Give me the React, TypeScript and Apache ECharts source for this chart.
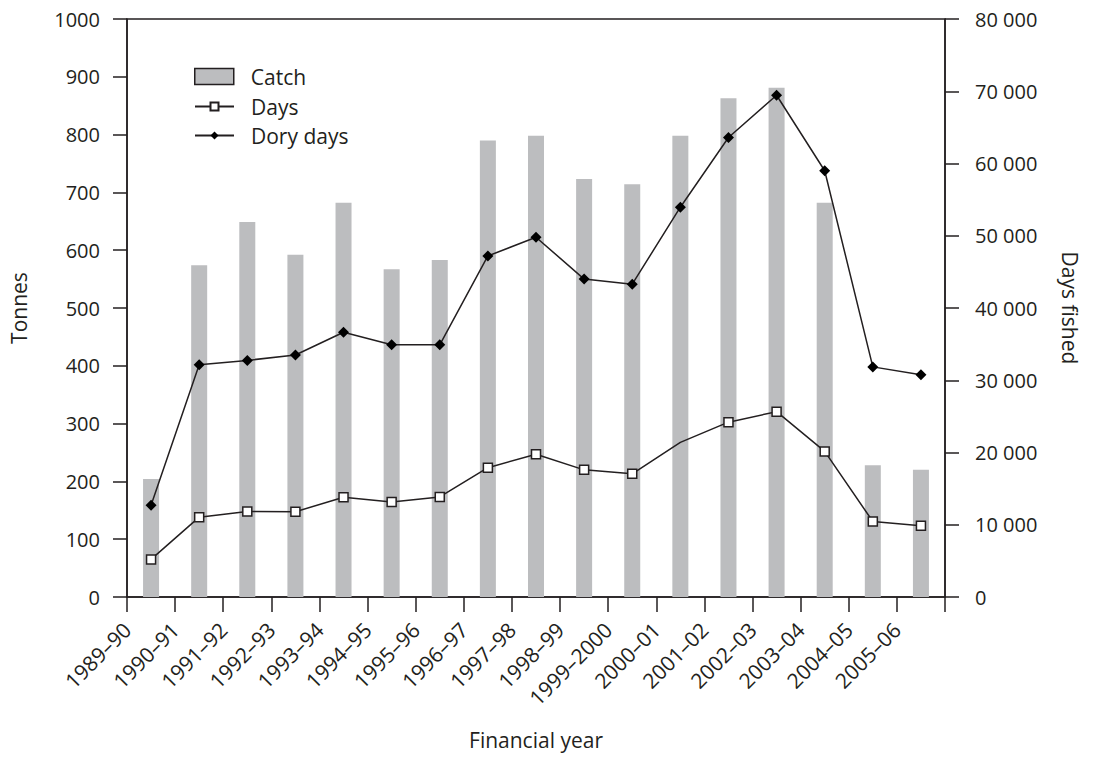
import React, { useEffect, useRef } from "react";
import * as echarts from "echarts";

const years = [
  "1989–90", "1990–91", "1991–92", "1992–93", "1993–94", "1994–95",
  "1995–96", "1996–97", "1997–98", "1998–99", "1999–2000", "2000–01",
  "2001–02", "2002–03", "2003–04", "2004–05", "2005–06",
];
const catchTonnes = [204, 574, 649, 592, 682, 567, 583, 790, 798, 723, 714, 798, 863, 881, 682, 228, 220];
const daysFished = [5200, 11050, 11850, 11800, 13800, 13150, 13850, 17900, 19750, 17600, 17050, 21400, 24200, 25650, 20150, 10450, 9850];
const doryDays = [12700, 32150, 32750, 33500, 36650, 34900, 34900, 47200, 49800, 44000, 43300, 53950, 63600, 69450, 59000, 31850, 30750];
const daysNoMarkerYear = "2000–01";
const leftTicks = { min: 0, max: 1000, interval: 100 };
const rightTicks = { min: 0, max: 80000, interval: 10000 };

const FONT = "'Open Sans', sans-serif";
const INK = "#231f20";

function fmtThousands(v: number): string {
  if (v === 0) return "0";
  const s = String(Math.round(v));
  return s.replace(/\B(?=(\d{3})+(?!\d))/g, " ");
}

export default function App() {
  const ref = useRef<HTMLDivElement>(null);
  useEffect(() => {
    if (!ref.current) return;
    const chart = echarts.init(ref.current, undefined, { renderer: "svg" });
    const axisLine = { show: true, lineStyle: { color: INK, width: 1.5 } };
    const tick = { show: true, inside: false, length: 14, lineStyle: { color: INK, width: 1.5 } };
    const labelStyle = { color: INK, fontFamily: FONT, fontSize: 20 };
    const nameStyle = { color: INK, fontFamily: FONT, fontSize: 21 };
    const legendText = { color: INK, fontFamily: FONT, fontSize: 21, padding: [0, 0, 0, 12] };
    chart.setOption({
      animation: false,
      backgroundColor: "#ffffff",
      textStyle: { fontFamily: FONT, color: INK },
      grid: {
        left: 127, right: 150, top: 19, bottom: 165,
        show: true, borderColor: INK, borderWidth: 1.5, backgroundColor: "transparent",
      },
      legend: [
        {
          orient: "vertical",
          left: 194, top: 66,
          padding: 0,
          itemWidth: 39, itemHeight: 16,
          textStyle: legendText,
          itemStyle: { color: "#bcbdbf", borderColor: INK, borderWidth: 1.5 },
          data: [{ name: "Catch", icon: "rect" }],
        },
        {
          orient: "vertical",
          left: 194, top: 96,
          padding: 0,
          itemWidth: 39, itemHeight: 10,
          itemGap: 8,
          textStyle: legendText,
          data: [{ name: "Days" }, { name: "Dory days" }],
        },
      ],
      xAxis: [
        {
          type: "category",
          data: years,
          boundaryGap: true,
          position: "bottom",
          axisLine,
          axisTick: { ...tick, length: 15, interval: 0 },
          axisLabel: { show: false },
          splitLine: { show: false },
          name: "Financial year",
          nameLocation: "middle",
          nameGap: 132,
          nameTextStyle: nameStyle,
        },
        {
          type: "category",
          data: [...years, ""],
          boundaryGap: false,
          position: "bottom",
          gridIndex: 0,
          axisLine: { show: false },
          axisTick: { show: false },
          splitLine: { show: false },
          axisLabel: { ...labelStyle, fontSize: 21, rotate: 45, margin: 29, interval: 0 },
        },
      ],
      yAxis: [
        {
          type: "value",
          position: "left",
          ...leftTicks,
          axisLine,
          axisTick: tick,
          splitLine: { show: false },
          axisLabel: { ...labelStyle, margin: 27, formatter: (v: number) => String(v) },
          name: "Tonnes",
          nameLocation: "middle",
          nameGap: 98,
          nameTextStyle: nameStyle,
        },
        {
          type: "value",
          position: "right",
          ...rightTicks,
          axisLine,
          axisTick: tick,
          splitLine: { show: false },
          axisLabel: { ...labelStyle, margin: 30, formatter: (v: number) => fmtThousands(v) },
          name: "Days fished",
          nameLocation: "middle",
          nameGap: 114,
          nameRotate: -90,
          nameTextStyle: nameStyle,
        },
      ],
      series: [
        {
          name: "Catch",
          type: "bar",
          xAxisIndex: 0,
          yAxisIndex: 0,
          data: catchTonnes,
          barWidth: 16,
          itemStyle: { color: "#bcbdbf" },
        },
        {
          name: "Days",
          type: "line",
          xAxisIndex: 0,
          yAxisIndex: 1,
          data: daysFished.map((v, i) =>
            years[i] === daysNoMarkerYear ? { value: v, symbol: "none" } : v
          ),
          symbol: "rect",
          symbolSize: 9,
          lineStyle: { color: INK, width: 1.5 },
          itemStyle: { color: "#ffffff", borderColor: INK, borderWidth: 1.5 },
          z: 3,
        },
        {
          name: "Dory days",
          type: "line",
          xAxisIndex: 0,
          yAxisIndex: 1,
          data: doryDays,
          symbol: "diamond",
          symbolSize: 11,
          lineStyle: { color: INK, width: 1.5 },
          itemStyle: { color: "#000000", borderColor: "#000000", borderWidth: 0 },
          z: 4,
        },
      ],
    });
    return () => chart.dispose();
  }, []);
  return <div ref={ref} style={{ width: 1095, height: 762, position: "absolute", left: 0, top: 0 }} />;
}
